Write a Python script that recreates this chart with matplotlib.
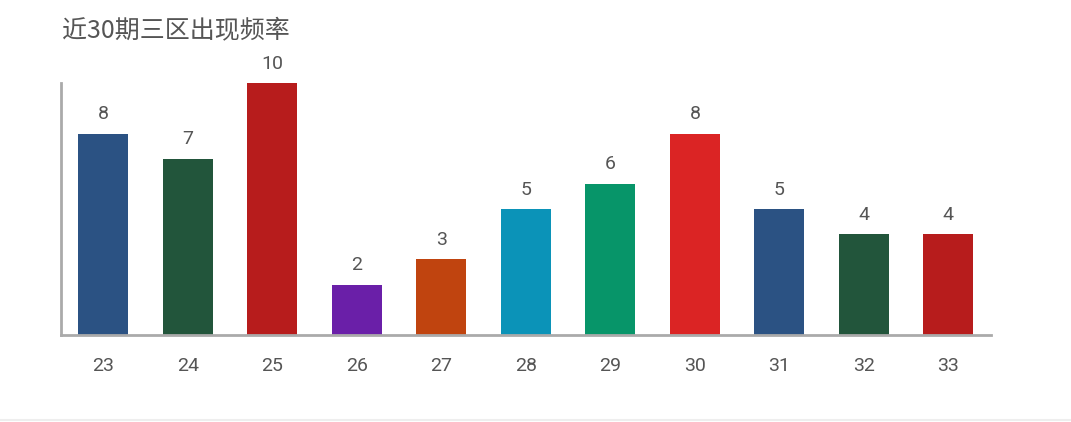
import matplotlib
matplotlib.use("Agg")
import matplotlib.pyplot as plt
from matplotlib.lines import Line2D

# ── Data ──────────────────────────────────────────────────────────────────────
numbers = ["23", "24", "25", "26", "27", "28", "29", "30", "31", "32", "33"]
counts = [8, 7, 10, 2, 3, 5, 6, 8, 5, 4, 4]
colors = ["#2b5283", "#22553b", "#b71c1c", "#6a1fa8", "#c0440f", "#0b93b8",
          "#079569", "#db2424", "#2b5283", "#22553b", "#b71c1c"]
title = "近30期三区出现频率"

TEXT = "#555555"
AXIS = "#aaaaaa"

# ── Figure ────────────────────────────────────────────────────────────────────
fig = plt.figure(figsize=(10.71, 4.22), dpi=100)
ax = fig.add_axes([0.057, 0.206, 0.868, 0.597])

x = range(len(numbers))
bars = ax.bar(x, counts, width=0.59, color=colors)

for b, v in zip(bars, counts):
    ax.annotate(str(v), (b.get_x() + b.get_width() / 2, v),
                xytext=(0, 7.5), textcoords="offset points",
                ha="center", va="bottom", fontsize=14,
                family="Roboto", color=TEXT)

ax.set_xlim(-0.5, len(numbers) - 0.5)
ax.set_ylim(0, 10)
ax.set_xticks(list(x))
ax.set_xticklabels(numbers, fontsize=14, family="Roboto", color=TEXT)
ax.tick_params(axis="x", length=0, pad=16)
ax.set_yticks([])

for side in ("top", "right"):
    ax.spines[side].set_visible(False)
for side in ("left", "bottom"):
    ax.spines[side].set_color(AXIS)
    ax.spines[side].set_linewidth(2)

fig.text(0.058, 0.925, title, fontsize=18, color=TEXT,
         family=["Noto Sans CJK SC", "DejaVu Sans"], ha="left", va="center")

# light separator at the bottom of the card
fig.add_artist(Line2D([0, 1], [0.005, 0.005], transform=fig.transFigure,
                      color="#eeeeee", linewidth=1.5))

fig.savefig("out.png", dpi=100)
